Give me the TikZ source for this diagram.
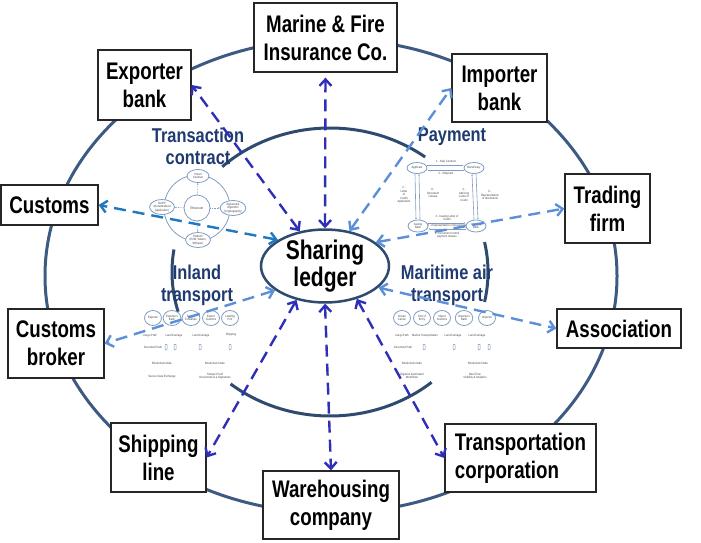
\documentclass[tikz,border=0pt]{standalone}
\usepackage{fontspec}
\setmainfont{Liberation Sans}[FakeStretch=0.85]
\newfontfamily\boxfont{Liberation Sans}[FakeStretch=0.78]
\newfontfamily\titlefont{Liberation Sans}[FakeStretch=0.82]
\usetikzlibrary{arrows.meta,shapes.geometric}
\definecolor{RingBlue}{HTML}{3C5A82}
\definecolor{InnerBlue}{HTML}{2E4A6E}
\definecolor{TitleNavy}{HTML}{1F3A70}
\definecolor{DarkLink}{HTML}{2E2EB8}
\definecolor{MidLink}{HTML}{1F78C0}
\definecolor{LightLink}{HTML}{5B8FD8}
\definecolor{MiniLine}{HTML}{7F9CC2}
\definecolor{MiniText}{HTML}{404040}
\newcommand{\minifont}{\fontsize{3.1}{3.5}\selectfont}

\begin{document}
\begin{tikzpicture}[x=1pt,y=-1pt,
      every node/.style={align=center},
      actor/.style={draw=black!85,line width=1.3pt,fill=white,inner sep=0pt,
        font=\boxfont\bfseries\fontsize{24}{28}\selectfont},
      ledger/.style={ellipse,draw=InnerBlue,line width=2.5pt,fill=white,inner sep=0pt,
        minimum width=128,minimum height=66,font=\boxfont\bfseries\fontsize{27}{25}\selectfont},
      paneltitle/.style={inner sep=0pt,text=TitleNavy,font=\titlefont\bfseries\fontsize{20}{22}\selectfont},
      ring/.style={draw=RingBlue,line width=3pt},
      minibox/.style={draw=MiniLine,line width=0.8pt,fill=white,inner sep=0.3pt,text=MiniText,font=\minifont},
      minitext/.style={inner sep=0pt,text=MiniText,font=\minifont},
      docicon/.style={draw=MiniLine,line width=0.5pt,inner sep=0pt,minimum width=2,
        minimum height=5.5,rounded corners=0.5pt},
      miniarrow/.style={-{Latex[length=1.6pt,width=1.6pt]},draw=MiniLine,line width=0.6pt},
      link/.style={{Straight Barb[length=6.5pt,width=12pt]}-{Straight Barb[length=6.5pt,width=12pt]},
        line width=2.4pt,dash pattern=on 12pt off 7pt},
      darklink/.style={link,draw=DarkLink},
      midlink/.style={link,draw=MidLink},
      lightlink/.style={link,draw=LightLink}]
      \useasboundingbox (0,0) rectangle (701,543);
      % rings
      \draw[ring] (331,276) ellipse [x radius=286,y radius=237];
      \draw[ring,draw=InnerBlue] (330,272) ++(227:158 and 144) arc[start angle=227,end angle=307,x radius=158,y radius=144];
      \draw[ring,draw=InnerBlue] (330,272) ++(164:158 and 144) arc[start angle=164,end angle=189,x radius=158,y radius=144];
      \draw[ring,draw=InnerBlue] (330,272) ++(-12:158 and 144) arc[start angle=-12,end angle=12,x radius=158,y radius=144];
      \draw[ring,draw=InnerBlue] (330,272) ++(50:158 and 144) arc[start angle=50,end angle=129,x radius=158,y radius=144];
      % transaction contract
      \node[paneltitle] (tctitle) at (198,146) {Transaction\\contract};
      \draw[draw=MiniLine,line width=0.8pt] (197,208) circle[radius=33];
      \node[minibox,circle,minimum size=26,font=\fontsize{3.4}{3.8}\selectfont] (eth) at (197,208) {Ethereum};
      \node[minibox,ellipse,minimum width=22,minimum height=13] (smart) at (198,176) {Smart\\Contract};
      \node[minibox,ellipse,minimum width=24,minimum height=15] (dapp) at (162,207) {DAPP\\(Decentralized\\Application)};
      \node[minibox,ellipse,minimum width=24,minimum height=15] (agree) at (233,208) {Agreement\\Algorithm\\(Cryptography)};
      \node[minibox,ellipse,minimum width=24,minimum height=15] (plat) at (198,240) {Platform\\(EVM, Swarm,\\Whisper)};
      \draw[miniarrow,densely dotted] (eth) -- (smart);
      \draw[miniarrow,densely dotted] (eth) -- (dapp);
      \draw[miniarrow,densely dotted] (eth) -- (agree);
      \draw[miniarrow,densely dotted] (eth) -- (plat);
      % payment
      \node[paneltitle] (paytitle) at (452,137) {Payment};
      \node[minibox,ellipse,minimum width=20,minimum height=11] (appl) at (417,168) {Applicant};
      \node[minibox,ellipse,minimum width=20,minimum height=11] (bene) at (474,168) {Beneficiary};
      \node[minibox,ellipse,minimum width=20,minimum height=12] (issu) at (418,226) {Issuing\\Bank};
      \node[minibox,ellipse,minimum width=20,minimum height=12] (advi) at (476,226) {Advising\\Bank};
      \draw[miniarrow] ([yshift=2.5pt]appl.east) -- ([yshift=2.5pt]bene.west);
      \draw[miniarrow] ([yshift=-2.5pt]bene.west) -- ([yshift=-2.5pt]appl.east);
      \draw[miniarrow] ([xshift=-2pt]appl.south) -- ([xshift=-2pt]issu.north);
      \draw[miniarrow] ([xshift=2pt]issu.north) -- ([xshift=2pt]appl.south);
      \draw[miniarrow] ([xshift=-2pt]advi.north) -- ([xshift=-2pt]bene.south);
      \draw[miniarrow] ([xshift=2pt]bene.south) -- ([xshift=2pt]advi.north);
      \draw[miniarrow] ([yshift=3pt]issu.east) -- ([yshift=3pt]advi.west);
      \draw[miniarrow] ([yshift=-3pt]advi.west) -- ([yshift=-3pt]issu.east);
      \node[minitext] (payone) at (446,161) {1 - Sale Contract};
      \node[minitext] (payfive) at (446,174) {5 - Shipment};
      \node[minitext] (paytwo) at (404,195) {2 -\\Letter\\of\\Credit\\Application};
      \node[minitext] (payeight) at (433,193) {8 -\\Document\\release};
      \node[minitext] (payfour) at (464,195) {4 -\\Advising\\Letter of\\Credit};
      \node[minitext] (paysix) at (490,195) {6 -\\Representation\\of documents};
      \node[minitext] (paythree) at (447,218) {3 - Issuing Letter of\\Credit};
      \node[minitext] (payseven) at (447,226) {7 - Representation of documents};
      \node[minitext] (paynine) at (447,235) {9 - Document control\\payment release};
      % inland transport
      \node[paneltitle] (inltitle) at (197,285) {Inland\\transport};
      \node[minibox,ellipse,minimum width=17,minimum height=15] (exporter) at (153,318) {Exporter};
      \node[minibox,ellipse,minimum width=17,minimum height=15] (expbank) at (172,318) {Exporter's\\Bank};
      \node[minibox,ellipse,minimum width=17,minimum height=15] (forwarder) at (191,318) {Freight\\Forwarder};
      \node[minibox,ellipse,minimum width=17,minimum height=15] (expcustoms) at (211,318) {Export\\Customs};
      \node[minibox,ellipse,minimum width=17,minimum height=15] (loadport) at (230,318) {Loading\\Port};
      \node[minitext] (cargoa) at (150,336) {Cargo Path};
      \node[minitext] (landa) at (174,336) {Land Carriage};
      \node[minitext] (landb) at (201,336) {Land Carriage};
      \node[minitext] (shipa) at (231,335) {Shipping};
      \node[minitext] (docpatha) at (153,347) {Document Path};
      \node[docicon] (doca) at (166,347) {};
      \node[docicon] (docb) at (175,347) {};
      \node[docicon] (docc) at (200,347) {};
      \node[docicon] (docd) at (230,347) {};
      \node[minitext] (chaina) at (162,363) {Blockchain Node};
      \node[minitext] (chainb) at (215,363) {Blockchain Node};
      \node[minitext] (securea) at (162,377) {Secure Data Exchange};
      \node[minitext] (tampera) at (215,376) {Tamper-Proof\\Documents \& e-Signatures};
      % maritime air transport
      \node[paneltitle] (martitle) at (447,285) {Maritime air\\transport};
      \node[minibox,ellipse,minimum width=17,minimum height=15] (carrier) at (402,318) {Ocean\\Carrier};
      \node[minibox,ellipse,minimum width=17,minimum height=15] (entry) at (422,318) {Port of\\Entry};
      \node[minibox,ellipse,minimum width=17,minimum height=15] (impcustoms) at (442,318) {Import\\Customs};
      \node[minibox,ellipse,minimum width=17,minimum height=15] (impbank) at (464,318) {Importer's\\Bank};
      \node[minibox,ellipse,minimum width=17,minimum height=15] (importer) at (487,318) {Importer};
      \node[minitext] (cargob) at (402,336) {Cargo Path};
      \node[minitext] (marine) at (425,336) {Marine Transportation};
      \node[minitext] (landc) at (453,336) {Land Carriage};
      \node[minitext] (landd) at (477,336) {Land Carriage};
      \node[minitext] (docpathb) at (403,347) {Document Path};
      \node[docicon] (doce) at (424,347) {};
      \node[docicon] (docf) at (454,347) {};
      \node[docicon] (docg) at (479,347) {};
      \node[docicon] (doch) at (489,347) {};
      \node[minitext] (chainc) at (412,363) {Blockchain Node};
      \node[minitext] (chaind) at (478,363) {Blockchain Node};
      \node[minitext] (digital) at (412,376) {Digital \& Automated\\Workflows};
      \node[minitext] (realtime) at (475,376) {Real Time\\Visibility \& Analytics};
      % participants
      \node[actor,minimum width=143,minimum height=69] (mar) at (325.5,37.5) {Marine \& Fire\\Insurance Co.};
      \node[actor,minimum width=93,minimum height=70] (exp) at (144.5,85) {Exporter\\bank};
      \node[actor,minimum width=95,minimum height=68] (imp) at (499.5,88) {Importer\\bank};
      \node[actor,minimum width=97,minimum height=40] (cus) at (49.5,205) {Customs};
      \node[actor,minimum width=85,minimum height=69] (trd) at (607.5,208.5) {Trading\\firm};
      \node[actor,minimum width=96,minimum height=69] (brk) at (56,343.5) {Customs\\broker};
      \node[actor,minimum width=124,minimum height=39] (asc) at (619,328.5) {Association};
      \node[actor,minimum width=95,minimum height=69] (shp) at (158.5,457.5) {Shipping\\line};
      \node[actor,minimum width=136,minimum height=68] (whs) at (331,505) {Warehousing\\company};
      \node[actor,minimum width=151,minimum height=68,align=left] (trn) at (520.5,458) {Transportation\\corporation};
      \node[ledger] (ledger) at (325,266) {Sharing\\ledger};
      % links to the ledger
      \draw[darklink] (ledger.126) -- (exp.east);
      \draw[darklink,shorten >=5pt] (ledger.north) -- (mar.south);
      \draw[lightlink] (ledger.55) -- (imp.west);
      \draw[midlink] (ledger.151) -- (cus.east);
      \draw[lightlink] (ledger.25) -- (trd.west);
      \draw[lightlink] (ledger.206) -- (brk.east);
      \draw[lightlink] (ledger.338) -- (asc.west);
      \draw[darklink] (ledger.230) -- (shp.east);
      \draw[darklink] (ledger.south) -- (whs.north);
      \draw[darklink] (ledger.314) -- (trn.west);
    \end{tikzpicture}
\end{document}
